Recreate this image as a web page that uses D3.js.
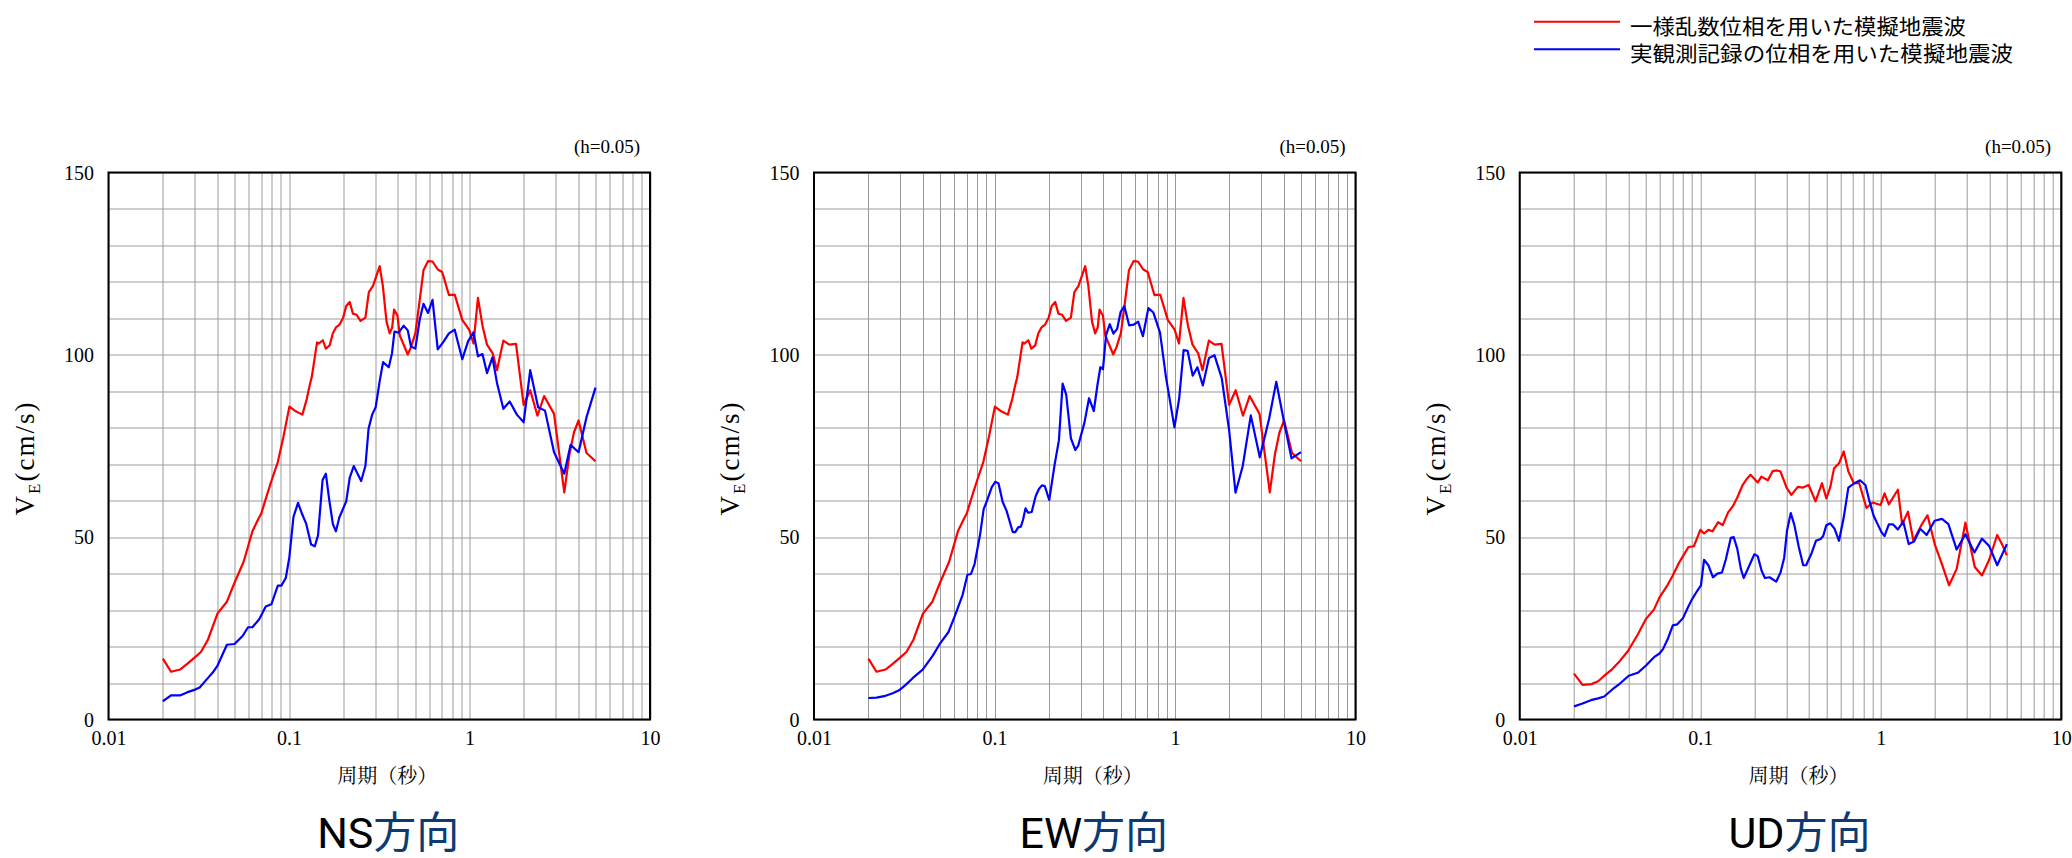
<!DOCTYPE html>
<html><head><meta charset="utf-8">
<script src="https://cdn.jsdelivr.net/npm/d3@7"></script>
<style>body{margin:0;background:#fff} svg{display:block}</style>
</head><body>
<svg id="c" width="2072" height="858"></svg>
<script>
// ---------- labels ----------
const directions = ["NS", "EW", "UD"];
const directionSuffix = "方向";
const xTickValues = [0.01, 0.1, 1, 10];
const xTickLabels = ["0.01", "0.1", "1", "10"];
const yTickValues = [0, 50, 100, 150];
const yTickLabels = ["0", "50", "100", "150"];
const legendLabels = ["一様乱数位相を用いた模擬地震波", "実観測記録の位相を用いた模擬地震波"];
const dampingLabel = "(h=0.05)";
const xTitle = "周期（秒）";

// ---------- data (period [s], VE [cm/s]) ----------
const redNS_T = [0.02,0.0222,0.0249,0.0274,0.0302,0.0325,0.0355,0.0402,0.0453,0.0499,0.056,0.0627,0.0675,0.0702,0.0765,0.081,0.0867,0.0933,0.1005,0.109,0.1186,0.1256,0.13,0.1337,0.143,0.146,0.154,0.16,0.168,0.175,0.182,0.19,0.1995,0.2075,0.217,0.226,0.2365,0.249,0.265,0.277,0.292,0.318,0.331,0.347,0.361,0.373,0.382,0.399,0.411,0.455,0.474,0.501,0.525,0.556,0.589,0.624,0.667,0.706,0.769,0.828,0.912,0.995,1.052,1.114,1.18,1.25,1.345,1.42,1.54,1.66,1.81,1.995,2.17,2.38,2.59,2.94,3.35,3.58,3.79,4.02,4.45,4.99];
const redNS_V = [16.7,13.1,13.7,15.3,17.1,18.5,21.8,29.1,32.3,37.5,43.2,51.6,54.9,56.5,62.5,66.3,70.6,77.7,85.8,84.5,83.6,88,91.5,93.9,103.4,103.1,104,101.7,102.6,105.9,107.5,108.2,110.2,113.4,114.5,111.3,111,109.3,110.2,117.2,118.9,124.3,118.9,109.1,105.9,107.5,112.4,110.7,105.3,100.1,102.1,105.9,113.4,123.2,125.7,125.6,123.4,122.7,116.4,116.5,109.6,106.9,103.1,115.6,108,102.8,100.4,95.8,103.9,102.8,103,86.3,90.3,83.3,88.7,83.8,62.3,72.8,78.7,82,73.1,70.8];

const blueNS_T = [0.02,0.0222,0.0249,0.0274,0.0302,0.032,0.035,0.0377,0.0402,0.0453,0.0499,0.0553,0.0593,0.0627,0.0684,0.0743,0.0799,0.0867,0.0907,0.096,0.1005,0.1059,0.1122,0.1174,0.1243,0.1326,0.139,0.1448,0.1535,0.16,0.167,0.175,0.182,0.19,0.2075,0.217,0.2285,0.251,0.265,0.276,0.289,0.302,0.318,0.332,0.357,0.372,0.384,0.405,0.432,0.455,0.474,0.501,0.53,0.556,0.589,0.624,0.667,0.72,0.769,0.828,0.912,0.982,1.052,1.114,1.18,1.25,1.34,1.42,1.54,1.67,1.83,1.995,2.17,2.4,2.62,2.94,3.35,3.63,4.02,4.45,4.99];
const blueNS_V = [5,6.6,6.6,7.5,8.2,8.8,11,12.8,14.8,20.5,20.7,22.9,25.3,25.3,27.5,31,31.6,36.7,36.7,38.8,44.6,55.6,59.4,56.7,53.8,48,47.5,50.5,65.7,67.4,60.3,53.6,51.6,55.4,59.8,66.3,69.5,65.4,69.5,79.8,83.6,85.6,92.8,98,96.6,100.4,106.4,106.1,108,106.7,102.3,101.7,109.7,114,111.5,115.1,101.5,103.7,105.9,106.9,98.8,103.7,106.2,99.6,100.2,95,99.3,92.3,85.2,87.2,83.6,81.5,95.8,85.6,84.7,73.3,67.4,75.3,73.3,82.9,91];

// EW random-phase spectrum is read as the same curve as NS
const redEW_T = redNS_T.slice();
const redEW_V = redNS_V.slice();

const blueEW_T = [0.02,0.0222,0.0249,0.0273,0.0296,0.0322,0.0353,0.04,0.0455,0.05,0.0556,0.0601,0.0666,0.0708,0.0741,0.0776,0.0832,0.0871,0.0912,0.0966,0.101,0.1053,0.1109,0.1167,0.1262,0.1304,0.1352,0.14,0.1438,0.1486,0.1535,0.1607,0.169,0.1762,0.183,0.19,0.201,0.215,0.2275,0.2384,0.2496,0.265,0.2805,0.291,0.315,0.334,0.355,0.372,0.386,0.399,0.415,0.435,0.456,0.478,0.5,0.524,0.557,0.591,0.625,0.664,0.712,0.759,0.826,0.893,0.993,1.055,1.116,1.174,1.253,1.331,1.426,1.543,1.654,1.815,1.992,2.164,2.375,2.63,2.95,3.32,3.64,3.99,4.42,4.99];
const blueEW_V = [5.9,6,6.5,7.2,8,9.5,11.4,13.7,17.5,20.9,24,28.2,34.2,39.7,39.9,42.7,50.7,57.7,60.2,63.7,65.2,64.7,59.7,57.2,51.4,51.4,52.7,52.9,54.7,57.9,56.7,56.9,61.2,63.2,64.2,64,60.2,69.7,76.6,92.1,89.1,77.1,73.9,75.1,81.4,88.1,84.6,91.8,96.6,96.1,105.4,108.4,105.8,107.1,111.8,113.4,108.1,108.3,109.1,105.1,112.8,111.6,106.1,93.6,80.1,88.1,101.3,101.1,94.3,96.6,91.6,99.1,99.9,93.6,79.6,62.2,69.6,83.4,71.9,82.4,92.6,82.4,71.6,73.3];

const redUD_T = [0.02,0.0223,0.025,0.0272,0.0291,0.0322,0.0358,0.0398,0.0451,0.0501,0.0555,0.0595,0.0658,0.0705,0.0756,0.0803,0.0861,0.0922,0.1002,0.105,0.111,0.117,0.1256,0.1333,0.1428,0.1517,0.1603,0.1718,0.18,0.19,0.2084,0.2182,0.2371,0.2518,0.266,0.2786,0.3013,0.32,0.3475,0.3707,0.399,0.4355,0.473,0.5,0.526,0.551,0.588,0.624,0.662,0.71,0.76,0.834,0.902,0.998,1.05,1.109,1.245,1.315,1.416,1.517,1.679,1.816,2.0,2.193,2.393,2.636,2.945,3.32,3.64,3.99,4.42,4.73,5.0];
const redUD_V = [12.6,9.5,9.7,10.5,11.8,13.6,16,18.8,23.3,27.6,30.2,33.5,36.8,39.5,42.6,44.8,47.3,47.5,52,51,52,51.6,54.1,53.3,56.8,58.5,60.8,64.3,65.8,67.1,65,66.6,65.6,68.1,68.3,68,63.5,61.6,63.8,63.6,64.3,59.8,64.8,60.6,63.8,68.8,70.3,73.5,68,64.8,64.8,58,59.5,58.8,62,59,63,53.5,57,49,53.3,56,47.8,42.3,36.8,41.3,54,41.8,39.5,43.8,50.6,47.8,45];

const blueUD_T = [0.02,0.0221,0.0248,0.0272,0.0294,0.0327,0.0358,0.0402,0.0451,0.0501,0.0555,0.0595,0.0622,0.066,0.0705,0.0747,0.0803,0.0851,0.0897,0.0963,0.101,0.105,0.111,0.1177,0.1245,0.132,0.1385,0.1477,0.1533,0.1605,0.168,0.1742,0.1856,0.1995,0.2083,0.2189,0.2283,0.2424,0.2635,0.2786,0.2918,0.3028,0.3175,0.3326,0.3517,0.3721,0.3862,0.4141,0.4377,0.4648,0.4799,0.5,0.5257,0.5554,0.5875,0.6236,0.662,0.7164,0.7677,0.8227,0.8617,0.9149,0.9673,1.012,1.05,1.109,1.172,1.245,1.333,1.429,1.531,1.655,1.797,1.99,2.185,2.372,2.636,2.945,3.307,3.64,3.99,4.42,5.0];
const blueUD_V = [3.6,4.3,5.3,5.8,6.3,8.3,9.8,12,12.8,14.8,17.1,18.1,19.3,22,25.8,26.1,27.8,30.5,32.8,35.3,36.8,43.8,42.3,39,40,40.3,43.8,49.8,50,46.8,41.3,38.8,41.8,45.3,44.8,40.8,38.8,39,37.8,40.3,44.3,51.8,56.6,53.3,47.3,42.3,42.3,45.6,49,49.5,50.3,53.3,53.8,52.3,49,55.3,63.6,64.8,65.6,64.3,60.3,55.8,53.3,51.3,50.3,53.5,53.5,52.1,54.3,48.1,48.8,52.3,50.6,54.5,55,53.6,46.6,50.8,45.8,49.6,47.6,42.3,48.1];

const panelsT = [[redNS_T, blueNS_T], [redEW_T, blueEW_T], [redUD_T, blueUD_T]];
const panelsV = [[redNS_V, blueNS_V], [redEW_V, blueEW_V], [redUD_V, blueUD_V]];

// ---------- layout ----------
const seriesColors = ["#ff0000", "#0000ff"];
const panelLeft = [108.5, 814, 1519.7];
const plotTop = 172.5, plotW = 541.5, plotH = 547;
const serif = "'Liberation Serif','Times New Roman',serif";
const cjkSerif = "'Noto Serif CJK JP','Liberation Serif','Noto Sans CJK JP',serif";
const sans = "Roboto,'Noto Sans CJK JP',sans-serif";

const svg = d3.select("#c");

directions.forEach((dir, pi) => {
  const g = svg.append("g").attr("transform", `translate(${panelLeft[pi]},${plotTop})`);
  const x = d3.scaleLog().domain([0.01, 10]).range([0, plotW]);
  const y = d3.scaleLinear().domain([0, 150]).range([plotH, 0]);

  // grid
  g.append("g").selectAll("line").data(x.ticks()).join("line")
    .attr("x1", d => Math.round(x(d)) + 0.5).attr("x2", d => Math.round(x(d)) + 0.5)
    .attr("y1", 0).attr("y2", plotH)
    .attr("stroke", "#9a9a9a").attr("stroke-width", 1);
  g.append("g").selectAll("line").data(y.ticks(15)).join("line")
    .attr("y1", d => Math.round(y(d)) + 0.5).attr("y2", d => Math.round(y(d)) + 0.5)
    .attr("x1", 0).attr("x2", plotW)
    .attr("stroke", "#9a9a9a").attr("stroke-width", 1);

  // series
  const line = d3.line().x(d => x(d[0])).y(d => y(d[1]));
  panelsT[pi].forEach((Ts, si) => {
    const pts = Ts.map((t, k) => [t, panelsV[pi][si][k]]);
    g.append("path").datum(pts).attr("d", line)
      .attr("fill", "none").attr("stroke", seriesColors[si])
      .attr("stroke-width", 2.2).attr("stroke-linejoin", "round");
  });

  // frame
  g.append("rect").attr("x", 0).attr("y", 0).attr("width", plotW).attr("height", plotH)
    .attr("fill", "none").attr("stroke", "#000").attr("stroke-width", 2);

  // axes
  const xa = g.append("g").attr("transform", `translate(0,${plotH})`)
    .call(d3.axisBottom(x).tickValues(xTickValues).tickFormat((d, i) => xTickLabels[i]).tickSize(0));
  xa.select(".domain").remove();
  xa.selectAll("text").attr("y", 25).attr("dy", null)
    .attr("font-family", serif).attr("font-size", 20).attr("fill", "#000");

  const ya = g.append("g")
    .call(d3.axisLeft(y).tickValues(yTickValues).tickFormat((d, i) => yTickLabels[i]).tickSize(0));
  ya.select(".domain").remove();
  ya.selectAll("text").attr("x", -14.5).attr("dy", "0.33em")
    .attr("font-family", serif).attr("font-size", 20).attr("fill", "#000");

  // damping note
  g.append("text").attr("x", plotW - 10).attr("y", -20).attr("text-anchor", "end")
    .attr("font-family", serif).attr("font-size", 19).text(dampingLabel);

  // y title
  const yt = g.append("text")
    .attr("transform", `translate(-75,${plotH / 2 + 12}) rotate(-90)`)
    .attr("text-anchor", "middle").attr("font-family", serif).attr("font-size", 27)
    .attr("letter-spacing", 2);
  yt.append("tspan").text("V");
  yt.append("tspan").attr("font-size", 17).attr("dy", 6).text("E");
  yt.append("tspan").attr("dy", -6).text("(cm/s)");

  // x title
  g.append("text").attr("x", plotW / 2 + 8).attr("y", plotH + 63.5)
    .attr("text-anchor", "middle").attr("font-family", cjkSerif).attr("font-size", 20)
    .text(xTitle);

  // panel title
  const tt = g.append("text").attr("x", plotW / 2 + 9).attr("y", 848 - plotTop)
    .attr("text-anchor", "middle").attr("font-family", sans).attr("font-size", 43);
  tt.append("tspan").attr("fill", "#000").text(dir);
  tt.append("tspan").attr("fill", "#0b3b72").text(directionSuffix);
});

// legend
const legend = svg.append("g");
legendLabels.forEach((lab, i) => {
  const ly = 21.7 + i * 27.6;
  legend.append("line").attr("x1", 1534).attr("x2", 1620).attr("y1", ly).attr("y2", ly)
    .attr("stroke", seriesColors[i]).attr("stroke-width", 2);
  legend.append("text").attr("x", 1630).attr("y", ly + 12)
    .attr("font-family", "'Noto Sans CJK JP',sans-serif").attr("font-size", 21)
    .attr("textLength", i === 0 ? 336 : 383).attr("lengthAdjust", "spacingAndGlyphs")
    .text(lab);
});
</script>
</body></html>
